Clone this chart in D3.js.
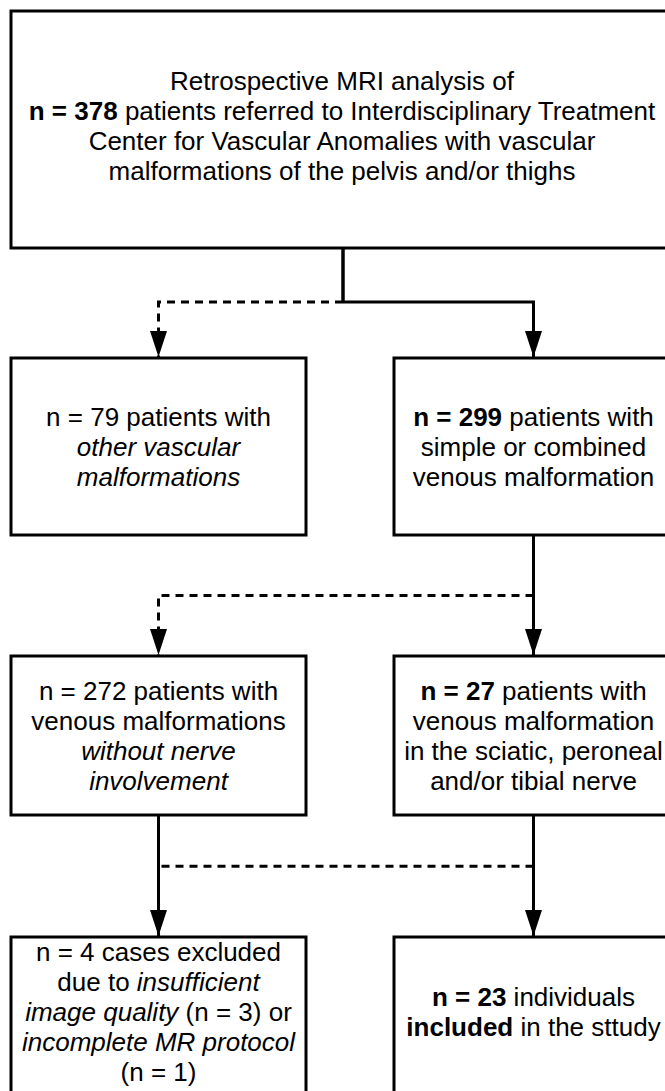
<!DOCTYPE html>
<html>
<head>
<meta charset="utf-8">
<script src="https://cdn.jsdelivr.net/npm/d3@7"></script>
<style>
  html, body { margin: 0; padding: 0; background: #fff; }
  svg { display: block; }
</style>
</head>
<body>
<div id="chart"></div>
<script>
// ---- data ----
// each box: id, row, column, lines of [text, style] segments
const boxIds = ["start", "other", "venous", "noNerve", "nerve", "excluded", "included"];
const boxRows = [0, 1, 1, 2, 2, 3, 3];
const boxCols = ["full", "left", "right", "left", "right", "left", "right"];
const boxLines = [
    [
        [["Retrospective MRI analysis of", "n"]],
        [["n = 378", "b"], [" patients referred to Interdisciplinary Treatment", "n"]],
        [["Center for Vascular Anomalies with vascular", "n"]],
        [["malformations of the pelvis and/or thighs", "n"]]
    ],
    [
        [["n = 79 patients with", "n"]],
        [["other vascular", "i"]],
        [["malformations", "i"]]
    ],
    [
        [["n = 299", "b"], [" patients with", "n"]],
        [["simple or combined", "n"]],
        [["venous malformation", "n"]]
    ],
    [
        [["n = 272 patients with", "n"]],
        [["venous malformations", "n"]],
        [["without nerve", "i"]],
        [["involvement", "i"]]
    ],
    [
        [["n = 27", "b"], [" patients with", "n"]],
        [["venous malformation", "n"]],
        [["in the sciatic, peroneal", "n"]],
        [["and/or tibial nerve", "n"]]
    ],
    [
        [["n = 4 cases excluded", "n"]],
        [["due to ", "n"], ["insufficient", "i"]],
        [["image quality", "i"], [" (n = 3) or", "n"]],
        [["incomplete MR protocol", "i"]],
        [["(n = 1)", "n"]]
    ],
    [
        [["n = 23", "b"], [" individuals", "n"]],
        [["included", "b"], [" in the sttudy", "n"]]
    ]
];

// connectors: from box, to box, dashed?
const linkFrom = ["start", "start", "venous", "venous", "noNerve", "nerve", "nerve"];
const linkTo = ["other", "venous", "noNerve", "nerve", "excluded", "included", "excluded"];
const linkDashed = [true, false, true, false, false, false, true];

// ---- layout ----
const W = 665, H = 1091;
const rowTop = d3.scaleOrdinal().domain([0, 1, 2, 3]).range([11, 358, 656, 937]);
const rowBottom = d3.scaleOrdinal().domain([0, 1, 2, 3]).range([248, 535, 815, 1095]);
const textShift = d3.scaleOrdinal().domain([0, 1, 2, 3]).range([-4, 0, 0, -4]);
const colLeft = d3.scaleOrdinal().domain(["full", "left", "right"]).range([11, 11, 394]);
const colRight = d3.scaleOrdinal().domain(["full", "left", "right"]).range([673, 306, 673]);
// where a branch turns sideways, as a share of the gap under the source row
const branchAt = d3.scaleOrdinal().domain([0, 1, 2]).range([0.49, 0.5, 0.42]);

const fontSize = 26, lineH = 30;
const strokeW = 3;

const boxes = boxIds.map((id, i) => {
    const x0 = colLeft(boxCols[i]), x1 = colRight(boxCols[i]);
    const y0 = rowTop(boxRows[i]), y1 = rowBottom(boxRows[i]);
    return { id, row: boxRows[i], x0, x1, y0, y1, cx: (x0 + x1) / 2, cy: (y0 + y1) / 2, lines: boxLines[i] };
});
const byId = new Map(boxes.map(b => [b.id, b]));

const svg = d3.select("#chart").append("svg")
    .attr("width", W)
    .attr("height", H)
    .style("font-family", "'Liberation Sans', Arial, sans-serif");

const defs = svg.append("defs");
defs.append("marker")
    .attr("id", "arrow")
    .attr("markerUnits", "userSpaceOnUse")
    .attr("viewBox", "0 0 26 17")
    .attr("refX", 26)
    .attr("refY", 8.5)
    .attr("markerWidth", 26)
    .attr("markerHeight", 17)
    .attr("orient", "auto")
    .append("path")
    .attr("d", "M0,0 L26,8.5 L0,17 Z")
    .attr("fill", "#000");

// boxes
svg.append("g").selectAll("rect")
    .data(boxes)
    .enter()
    .append("rect")
    .attr("x", d => d.x0)
    .attr("y", d => d.y0)
    .attr("width", d => d.x1 - d.x0)
    .attr("height", d => d.y1 - d.y0)
    .attr("fill", "#fff")
    .attr("stroke", "#000")
    .attr("stroke-width", strokeW);

// connectors
const links = linkFrom.map((f, i) => {
    const s = byId.get(f), t = byId.get(linkTo[i]);
    const sx = f === "start" ? s.cx + 1 : s.cx;
    const yBranch = s.y1 + (rowTop(s.row + 1) - s.y1) * branchAt(s.row);
    return { s, t, sx, yBranch, dashed: linkDashed[i] };
});

const gLinks = svg.append("g")
    .attr("fill", "none")
    .attr("stroke", "#000")
    .attr("stroke-width", strokeW);

links.forEach(l => {
    const straight = Math.abs(l.sx - l.t.cx) < 2;
    if (straight) {
        gLinks.append("line")
            .attr("x1", l.sx).attr("y1", l.s.y1)
            .attr("x2", l.t.cx).attr("y2", l.t.y0 - 1)
            .attr("marker-end", "url(#arrow)");
        return;
    }
    // solid stem from source down to the branch
    gLinks.append("line")
        .attr("x1", l.sx).attr("y1", l.s.y1)
        .attr("x2", l.sx).attr("y2", l.yBranch);
    // join onto a line that already runs into the target: horizontal only
    const targetHasOwn = links.some(o => o !== l && o.t === l.t && Math.abs(o.sx - l.t.cx) < 2);
    if (targetHasOwn) {
        gLinks.append("line")
            .attr("x1", l.sx).attr("y1", l.yBranch)
            .attr("x2", l.t.cx).attr("y2", l.yBranch)
            .attr("stroke-dasharray", l.dashed ? "8,6" : null);
        return;
    }
    gLinks.append("path")
        .attr("d", `M${l.sx},${l.yBranch} H${l.t.cx} V${l.t.y0 - 1}`)
        .attr("stroke-dasharray", l.dashed ? "8,6" : null)
        .attr("stroke-linejoin", "miter")
        .attr("marker-end", "url(#arrow)");
});

// text
const gText = svg.append("g")
    .attr("font-size", fontSize)
    .attr("fill", "#000")
    .attr("text-anchor", "middle");

boxes.forEach(b => {
    const n = b.lines.length;
    b.lines.forEach((segs, i) => {
        const yMid = b.cy + textShift(b.row) + (i - (n - 1) / 2) * lineH;
        const t = gText.append("text")
            .attr("x", b.cx)
            .attr("y", yMid + 9);
        segs.forEach(([txt, st]) => {
            t.append("tspan")
                .attr("font-weight", st === "b" ? "bold" : null)
                .attr("font-style", st === "i" ? "italic" : null)
                .text(txt);
        });
    });
});
</script>
</body>
</html>
